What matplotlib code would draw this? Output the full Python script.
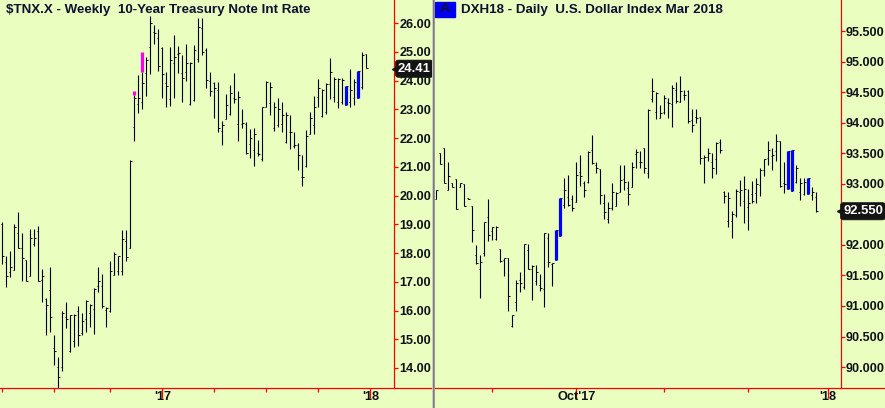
import matplotlib
matplotlib.use("Agg")
import matplotlib.pyplot as plt

# weekly 10-year note, one row per week: high, low, open, close
tnx_high = [19.07, 17.90, 18.08, 19.00, 19.41, 18.69, 17.75, 18.83, 18.83, 18.95, 17.44, 16.42, 17.50, 15.14, 14.40, 15.99,
            16.28, 15.85, 15.87, 16.16, 15.93, 16.36, 16.22, 16.77, 17.53, 17.27, 16.13, 17.71, 18.02, 17.88, 18.80, 18.80,
            21.23, 23.50, 24.19, 24.31, 24.81, 26.24, 25.93, 25.79, 25.18, 24.31, 25.18, 25.58, 25.20, 24.89, 25.27, 24.66,
            25.23, 26.16, 26.16, 25.12, 24.31, 23.94, 23.94, 22.60, 23.53, 23.84, 24.25, 23.65, 23.01, 22.55, 22.30, 22.34,
            21.93, 23.07, 23.98, 23.94, 23.26, 23.38, 23.24, 22.92, 22.80, 22.22, 21.84, 21.41, 22.28, 22.92, 23.46, 24.05,
            23.69, 23.92, 24.79, 24.11, 24.08, 24.08, 23.81, 24.39, 24.05, 24.34, 25.00, 24.91]
tnx_low = [17.61, 16.82, 17.15, 17.42, 18.19, 17.03, 17.03, 17.21, 18.23, 17.01, 16.28, 15.15, 15.26, 14.11, 13.32, 13.90,
           15.39, 14.56, 14.74, 14.77, 15.15, 15.26, 15.43, 15.18, 16.63, 16.08, 15.43, 15.96, 17.23, 17.24, 17.24, 17.71,
           18.16, 21.91, 22.88, 23.02, 23.46, 24.23, 25.27, 24.34, 23.39, 23.09, 23.11, 23.38, 24.25, 23.26, 23.98, 23.15,
           23.30, 24.66, 24.89, 23.75, 23.46, 22.70, 22.22, 21.76, 22.66, 22.80, 23.23, 21.90, 22.34, 21.44, 21.29, 21.04,
           21.37, 21.21, 23.09, 22.80, 22.26, 22.37, 22.20, 21.84, 21.62, 21.64, 20.89, 20.34, 20.98, 22.14, 22.14, 23.07,
           22.74, 22.83, 23.35, 23.26, 23.05, 23.18, 23.15, 23.09, 23.15, 23.40, 23.69, 24.42]
tnx_open = [19.01, 17.67, 17.35, 17.42, 18.68, 18.16, 17.75, 17.21, 18.33, 18.75, 17.06, 16.40, 16.72, 14.71, 14.02, 14.02,
            15.76, 14.60, 14.95, 15.99, 15.21, 15.70, 15.91, 16.05, 16.86, 16.86, 16.01, 15.99, 17.23, 17.38, 17.38, 18.42,
            18.16, 22.39, 23.17, 23.26, 24.25, 25.15, 25.68, 25.49, 25.12, 23.90, 23.35, 24.60, 24.92, 24.25, 24.31, 23.17,
            23.32, 24.74, 25.81, 25.06, 23.98, 23.90, 23.67, 22.24, 22.66, 22.83, 23.38, 22.49, 22.49, 22.49, 21.78, 21.58,
            21.47, 21.26, 23.09, 23.21, 22.34, 22.45, 22.49, 21.87, 22.22, 21.72, 21.76, 20.66, 21.04, 22.14, 22.45, 23.44,
            22.77, 22.89, 23.88, 23.44, 23.26, 23.24, 23.15, 23.26, 23.38, 23.40, 23.76, 24.91]
tnx_close = [17.90, 17.21, 17.53, 18.89, 18.19, 17.81, 17.03, 18.51, 18.51, 17.01, 17.21, 16.19, 15.79, 14.58, 13.67, 15.93,
             15.70, 15.84, 15.84, 15.15, 15.64, 16.34, 16.19, 16.74, 17.01, 16.14, 16.08, 17.38, 17.96, 17.88, 18.48, 17.85,
             21.21, 23.38, 23.38, 23.90, 24.71, 25.99, 25.64, 24.50, 24.23, 23.81, 24.71, 24.83, 24.97, 24.08, 24.60, 24.60,
             25.06, 25.85, 25.00, 24.02, 23.65, 23.73, 22.34, 22.45, 23.15, 23.55, 23.36, 23.44, 22.51, 21.47, 21.99, 22.14,
             21.44, 23.07, 23.96, 23.79, 23.07, 23.00, 22.80, 22.80, 22.22, 21.76, 21.41, 20.66, 22.07, 22.68, 23.09, 23.73,
             23.67, 23.87, 24.31, 24.05, 24.05, 24.02, 23.81, 23.67, 23.96, 24.34, 24.89, 24.42]
tnx_ticks = [0, 13, 27, 40, 53, 66, 79, 92]
tnx_tick_labels = ["", "", "", "'17", "", "", "", "'18"]
tnx_yticks = [14, 15, 16, 17, 18, 19, 20, 21, 22, 23, 24, 25, 26]
tnx_last = 24.41
# highlighted stretches: bar index, from, to
tnx_magenta = [(33, 23.50, 23.63), (35, 24.31, 25.00)]
tnx_blue = [(86, 23.15, 23.81), (89, 23.40, 24.34)]

# daily dollar index
dxh_high = [92.90, 93.50, 93.58, 93.35, 93.02, 93.07, 93.02, 92.99, 92.76, 92.63, 91.99, 91.83, 92.37, 92.75, 92.30, 92.31,
            91.94, 91.78, 91.79, 90.86, 91.43, 91.56, 92.02, 92.01, 91.67, 91.67, 91.52, 92.20, 92.19, 91.70, 92.24, 92.76,
            93.09, 93.14, 92.82, 93.35, 93.47, 93.04, 93.54, 93.80, 93.35, 93.24, 92.84, 92.70, 93.02, 92.86, 93.30, 93.30,
            93.04, 93.35, 93.57, 93.54, 93.58, 94.23, 94.73, 94.50, 94.29, 94.45, 94.40, 94.62, 94.67, 94.76, 94.53, 94.53,
            94.22, 94.22, 94.09, 93.47, 93.58, 93.51, 93.68, 93.74, 92.88, 92.86, 92.55, 92.91, 93.06, 93.13, 92.91, 93.04,
            93.09, 93.26, 93.41, 93.70, 93.58, 93.82, 93.70, 93.36, 93.54, 93.56, 93.31, 93.10, 93.09, 93.09, 92.95, 92.86]
dxh_low = [92.75, 93.33, 93.02, 92.89, 92.94, 92.58, 92.94, 92.64, 92.75, 92.05, 91.69, 91.13, 91.82, 92.07, 92.08, 92.08,
           91.72, 91.49, 90.92, 90.66, 90.92, 91.23, 91.28, 91.60, 91.10, 91.34, 91.24, 90.99, 91.64, 91.33, 91.75, 92.15,
           92.60, 92.64, 92.56, 92.70, 92.97, 92.79, 93.02, 93.33, 93.18, 92.67, 92.42, 92.36, 92.57, 92.63, 92.86, 92.90,
           92.65, 92.94, 93.26, 93.26, 93.18, 93.09, 94.33, 94.06, 94.07, 94.14, 94.07, 93.93, 94.32, 94.33, 94.37, 94.00,
           93.85, 93.99, 93.33, 93.02, 93.37, 93.10, 93.16, 93.50, 92.69, 92.30, 92.12, 92.46, 92.64, 92.36, 92.24, 92.68,
           92.68, 92.80, 93.13, 93.31, 93.22, 93.37, 92.95, 92.85, 92.91, 92.88, 93.02, 92.74, 92.81, 92.84, 92.74, 92.53]
dxh_open = [92.75, 93.50, 93.58, 92.89, 93.02, 93.07, 92.94, 92.99, 92.76, 92.63, 91.83, 91.60, 91.87, 92.45, 92.23, 92.09,
            91.94, 91.76, 91.79, 90.67, 91.06, 91.42, 91.31, 91.91, 91.61, 91.41, 91.34, 91.27, 92.12, 91.69, 91.75, 92.15,
            92.66, 92.79, 92.75, 92.70, 93.20, 93.01, 93.03, 93.55, 93.31, 93.24, 92.69, 92.43, 92.60, 92.64, 92.87, 93.07,
            92.93, 92.94, 93.49, 93.36, 93.58, 93.17, 94.38, 94.18, 94.07, 94.18, 94.34, 94.30, 94.53, 94.33, 94.45, 94.52,
            94.04, 94.10, 94.09, 93.42, 93.44, 93.36, 93.40, 93.68, 92.86, 92.39, 92.39, 92.49, 92.87, 92.71, 92.62, 92.84,
            92.85, 92.98, 93.22, 93.42, 93.46, 93.54, 93.70, 93.02, 92.91, 92.88, 93.03, 92.87, 92.84, 92.84, 92.81, 92.79]
dxh_close = [92.89, 93.33, 93.02, 93.12, 92.94, 92.58, 93.02, 92.64, 92.75, 92.24, 91.70, 91.72, 92.37, 92.16, 92.30, 92.30,
             91.73, 91.78, 91.17, 90.86, 91.38, 91.38, 92.02, 91.61, 91.65, 91.56, 91.29, 92.19, 91.72, 91.70, 92.24, 92.76,
             92.90, 92.65, 92.61, 93.14, 93.12, 92.90, 93.52, 93.34, 93.25, 92.81, 92.54, 92.61, 92.86, 92.85, 93.06, 93.03,
             92.83, 93.28, 93.52, 93.35, 93.26, 94.21, 94.52, 94.48, 94.15, 94.40, 94.32, 94.56, 94.36, 94.51, 94.46, 94.03,
             93.96, 94.07, 93.42, 93.43, 93.50, 93.26, 93.66, 93.55, 92.80, 92.76, 92.50, 92.88, 92.90, 92.92, 92.69, 92.71,
             93.00, 93.23, 93.40, 93.55, 93.47, 93.70, 92.96, 93.00, 93.54, 93.56, 93.25, 93.02, 93.03, 93.09, 92.87, 92.55]
dxh_ticks = [14, 35, 57, 78, 98]
dxh_tick_labels = ["", "Oct'17", "", "", "'18"]
dxh_yticks = [90.0, 90.5, 91.0, 91.5, 92.0, 92.5, 93.0, 93.5, 94.0, 94.5, 95.0, 95.5]
dxh_last = 92.55
dxh_blue = [(30, 91.75, 92.24), (31, 92.15, 92.76), (88, 92.91, 93.54), (89, 92.88, 93.56), (93, 92.84, 93.09)]

BG = "#eafec0"
W, H = 885, 408
plt.rcParams["font.family"] = ["Liberation Sans", "DejaVu Sans"]
plt.rcParams["font.weight"] = "bold"


def draw_bars(ax, high, low, opens, close):
    xs = list(range(len(high)))
    ax.vlines(xs, low, high, color="black", lw=0.8)
    ax.hlines(opens, [x - 0.3 for x in xs], xs, color="black", lw=0.72)
    ax.hlines(close, xs, [x + 0.3 for x in xs], color="black", lw=0.72)


def highlight(ax, spans, color):
    for i, lo, hi in spans:
        ax.vlines(i, lo, hi, color=color, lw=2.3, capstyle="butt", zorder=3)


def style_axis(ax, ticks, labels, yticks, fmt, spine_px, left_px, width_px):
    ax.set_facecolor(BG)
    ax.spines["top"].set_visible(False)
    ax.spines["left"].set_visible(False)
    ax.spines["right"].set_position(("axes", (spine_px - left_px) / width_px))
    for s in ("right", "bottom"):
        ax.spines[s].set_color("#ff0000")
        ax.spines[s].set_linewidth(0.9)
    ax.yaxis.tick_right()
    ax.set_yticks(yticks)
    ax.set_yticklabels([fmt % v for v in yticks])
    ax.tick_params(axis="y", colors="#ff0000", labelcolor="#101018", length=3, width=0.9, pad=1, labelsize=9.1)
    ax.set_xticks(ticks)
    ax.set_xticklabels(labels)
    ax.tick_params(axis="x", colors="#ff0000", labelcolor="#101018", length=3, width=0.9, labelsize=9.2, pad=-0.5)
    # labelled ticks run longer
    for t, lab in zip(ax.xaxis.get_major_ticks(), labels):
        if lab:
            t.tick1line.set_markersize(7)
        t.label1.set_verticalalignment("top")


def last_tag(ax, value, text, left_px, width_px, box_px):
    xa = (box_px - left_px) / width_px
    tr = ax.get_yaxis_transform()
    ax.plot([xa - 1.5 / width_px], [value], marker="<", ms=4, color="#141414", transform=tr, clip_on=False, zorder=5)
    ax.text(xa + 2 / width_px, value, text, transform=tr, color="white", fontsize=9.4, va="center", ha="left", zorder=6,
            bbox=dict(boxstyle="round,pad=0.2,rounding_size=0.25", fc="#141414", ec="#141414", lw=0.5))


fig = plt.figure(figsize=(W / 100, H / 100), dpi=100, facecolor=BG)

# left panel, 0..432 px wide, price scale spine at 394 px
ax1 = fig.add_axes([0, 1 - 387.5 / H, 432 / W, 387.5 / H])
draw_bars(ax1, tnx_high, tnx_low, tnx_open, tnx_close)
highlight(ax1, tnx_magenta, "#ff00e6")
highlight(ax1, tnx_blue, "#0000ff")
ax1.set_xlim(-0.583, 107.42)
ax1.set_ylim(26 - 364.5 / 28.75, 26 + 23 / 28.75)
style_axis(ax1, tnx_ticks, tnx_tick_labels, tnx_yticks, "%.2f", 394, 0, 432)
last_tag(ax1, tnx_last, "%.2f" % tnx_last, 0, 432, 396)
ax1.text(6 / 432, 1 - 9.5 / 387.5, "$TNX.X - Weekly  10-Year Treasury Note Int Rate", transform=ax1.transAxes,
         fontsize=9.6, color="#101030", va="center", ha="left")

# right panel
ax2 = fig.add_axes([435 / W, 1 - 387.5 / H, 450 / W, 387.5 / H])
draw_bars(ax2, dxh_high, dxh_low, dxh_open, dxh_close)
highlight(ax2, dxh_blue, "#0000ff")
ax2.set_xlim(-0.325, 112.175)
ax2.set_ylim(95.5 - 356.5 / 61.1, 95.5 + 31 / 61.1)
style_axis(ax2, dxh_ticks, dxh_tick_labels, dxh_yticks, "%.3f", 840.5, 435, 450)
ax2.set_yticklabels(["" if v == 92.5 else "%.3f" % v for v in dxh_yticks])
last_tag(ax2, dxh_last, "%.3f" % dxh_last, 435, 450, 841)
ax2.text(26 / 450, 1 - 9.5 / 387.5, "DXH18 - Daily  U.S. Dollar Index Mar 2018", transform=ax2.transAxes,
         fontsize=9.6, color="#101030", va="center", ha="left")
ax2.text(2 / 450, 1 - 9.5 / 387.5, " A ", transform=ax2.transAxes, fontsize=9.6, color="#101030", va="center",
         ha="left", bbox=dict(boxstyle="square,pad=0.12", fc="#0000f0", ec="#0000f0"))

# panel separator
fig.add_artist(plt.Line2D([433 / W, 433 / W], [0, 1], color="#7a7a7a", lw=1.8))
fig.add_artist(plt.Line2D([431.5 / W, 431.5 / W], [0, 1], color="#d8d8d8", lw=0.6))

fig.savefig("out.png", dpi=100, facecolor=BG)
